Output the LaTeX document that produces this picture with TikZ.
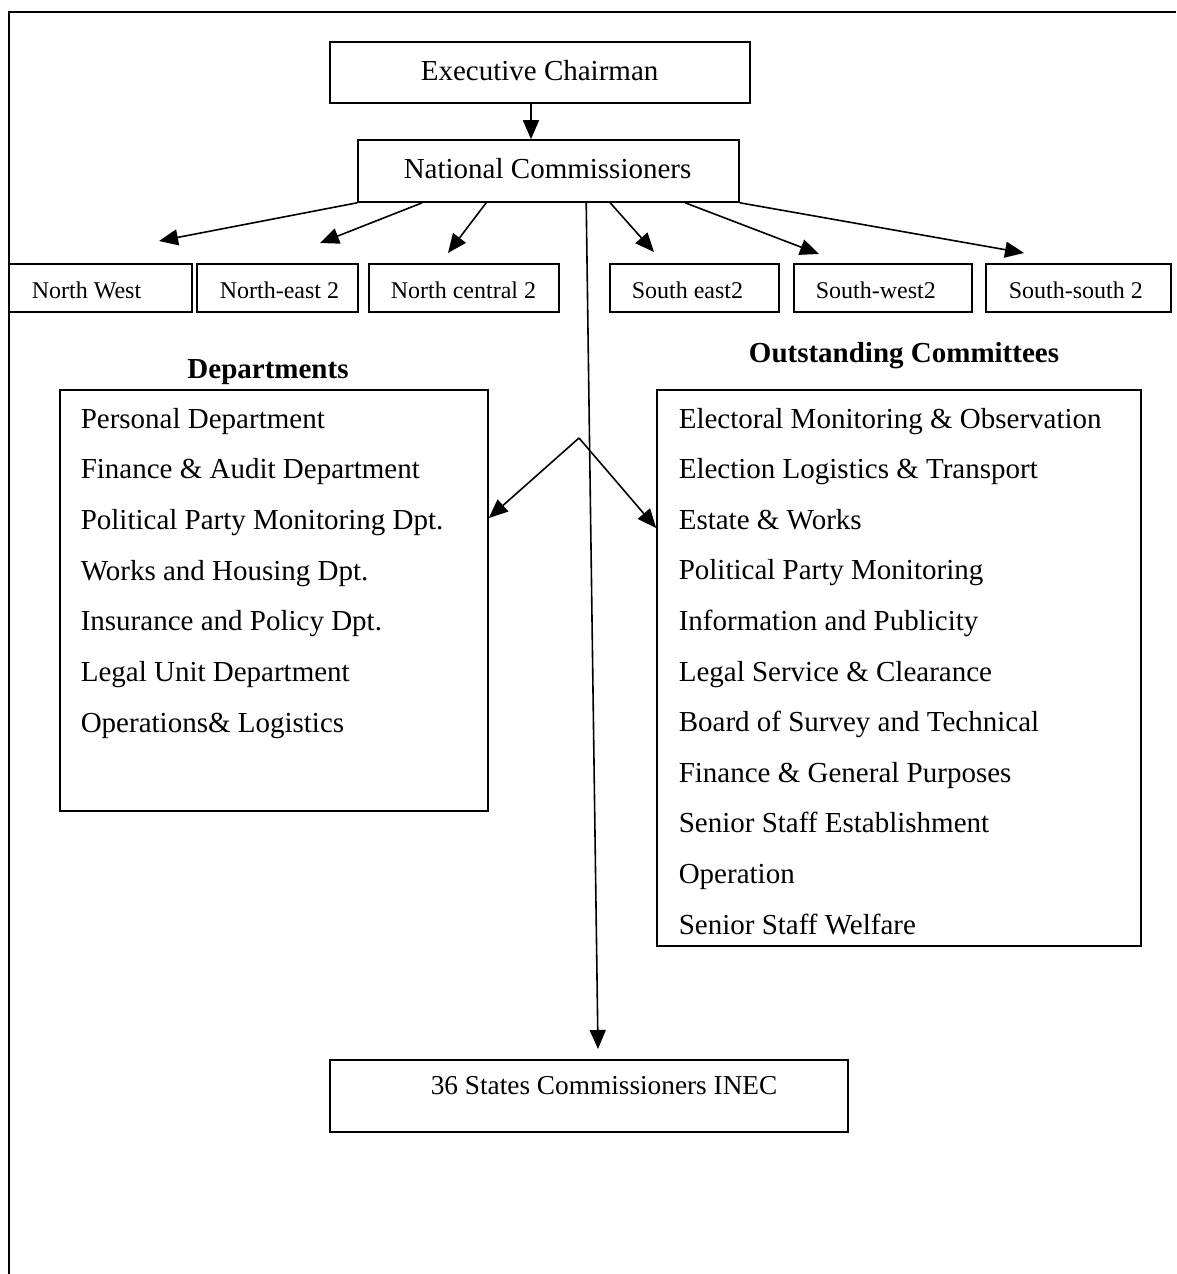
\documentclass[tikz,border=0pt]{standalone}
\usepackage{fontspec}
\setmainfont{Liberation Serif}
\usetikzlibrary{arrows.meta}
\begin{document}
\begin{tikzpicture}[x=1pt,y=-1pt,line width=1.6pt,
  boxr/.style={draw,line width=1.6pt,inner sep=0pt},
  txt/.style={inner sep=0pt,anchor=base west,font=\fontsize{29}{35}\selectfont},
  rtxt/.style={inner sep=0pt,anchor=base west,font=\fontsize{24}{29}\selectfont},
  head/.style={inner sep=0pt,anchor=base,font=\fontsize{29}{35}\selectfont\bfseries},
  arr/.style={-{Triangle[length=19pt,width=16pt]},line width=1.6pt}]
\useasboundingbox (0,0) rectangle (1176,1274);
% outer frame (top and left only)
\draw[line width=2pt] (9,1274) -- (9,12) -- (1176,12);

% top boxes
\node[boxr,minimum width=420pt,minimum height=61pt] (exec) at (540,72.5) {};
\node[txt] (exect) at (420,80) {Executive Chairman};
\node[boxr,minimum width=381pt,minimum height=62pt] (nc) at (548.5,171) {};
\node[txt] (nct) at (403,178) {National Commissioners};

% region boxes
\node[boxr,minimum width=183pt,minimum height=48pt] (nw) at (100.5,288) {};
\node[rtxt] (nwt) at (31,298) {North West};
\node[boxr,minimum width=161pt,minimum height=48pt] (ne) at (277.5,288) {};
\node[rtxt] (net) at (219,298) {North-east 2};
\node[boxr,minimum width=190pt,minimum height=48pt] (ncen) at (464,288) {};
\node[rtxt] (ncent) at (390,298) {North central 2};
\node[boxr,minimum width=169pt,minimum height=48pt] (se) at (694.5,288) {};
\node[rtxt] (set) at (631,298) {South east2};
\node[boxr,minimum width=178pt,minimum height=48pt] (sw) at (883,288) {};
\node[rtxt] (swt) at (815,298) {South-west2};
\node[boxr,minimum width=185pt,minimum height=48pt] (ss) at (1078.5,288) {};
\node[rtxt] (sst) at (1008,298) {South-south 2};

% arrow end points
\coordinate (t1) at (159,241);
\coordinate (t2) at (320,243);
\coordinate (t3) at (448,253);
\coordinate (t4) at (654,252);
\coordinate (t5) at (819,254);
\coordinate (t6) at (1024,253);
\coordinate (tl) at (598,1049);

% arrows
\draw[arr] ([xshift=-9pt]exec.south) -- ([xshift=-17.5pt]nc.north);
\draw[arr] (nc.south west) -- (t1);
\draw[arr] ([xshift=65pt]nc.south west) -- (t2);
\draw[arr] ([xshift=129pt]nc.south west) -- (t3);
\draw[arr] ([xshift=229pt]nc.south west) -- (tl);
\draw[arr] ([xshift=253pt]nc.south west) -- (t4);
\draw[arr] ([xshift=328pt]nc.south west) -- (t5);
\draw[arr] (nc.south east) -- (t6);

% Departments
\node[head] (dhead) at (268,378) {Departments};
\node[boxr,minimum width=428pt,minimum height=421pt] (dept) at (274,600.5) {};
\node[txt] (d1) at (80,428) {Personal Department};
\node[txt] (d2) at (80,478.7) {Finance \& Audit Department};
\node[txt] (d3) at (80,529.4) {Political Party Monitoring Dpt.};
\node[txt] (d4) at (80,580.1) {Works and Housing Dpt.};
\node[txt] (d5) at (80,630.8) {Insurance and Policy Dpt.};
\node[txt] (d6) at (80,681.5) {Legal Unit Department};
\node[txt] (d7) at (80,732.2) {Operations\& Logistics};

% Outstanding Committees
\node[head] (chead) at (904,362) {Outstanding Committees};
\node[boxr,minimum width=484pt,minimum height=556pt] (comm) at (899,668) {};
\node[txt] (c1) at (678,428) {Electoral Monitoring \& Observation};
\node[txt] (c2) at (678,478.6) {Election Logistics \& Transport};
\node[txt] (c3) at (678,529.2) {Estate \& Works};
\node[txt] (c4) at (678,579.8) {Political Party Monitoring};
\node[txt] (c5) at (678,630.4) {Information and Publicity};
\node[txt] (c6) at (678,681) {Legal Service \& Clearance};
\node[txt] (c7) at (678,731.6) {Board of Survey and Technical};
\node[txt] (c8) at (678,782.2) {Finance \& General Purposes};
\node[txt] (c9) at (678,832.8) {Senior Staff Establishment};
\node[txt] (c10) at (678,883.4) {Operation};
\node[txt] (c11) at (678,934) {Senior Staff Welfare};

% crossing arrows
\coordinate (apex) at (579,438);
\draw[arr] (apex) -- (dept.east |- 0,518);
\draw[arr] (apex) -- (comm.west |- 0,528);

% 36 states
\node[boxr,minimum width=518pt,minimum height=72pt] (states) at (589,1096) {};
\node[txt,font=\fontsize{27.3}{33}\selectfont] (statest) at (430,1094) {36 States Commissioners INEC};
\end{tikzpicture}
\end{document}
